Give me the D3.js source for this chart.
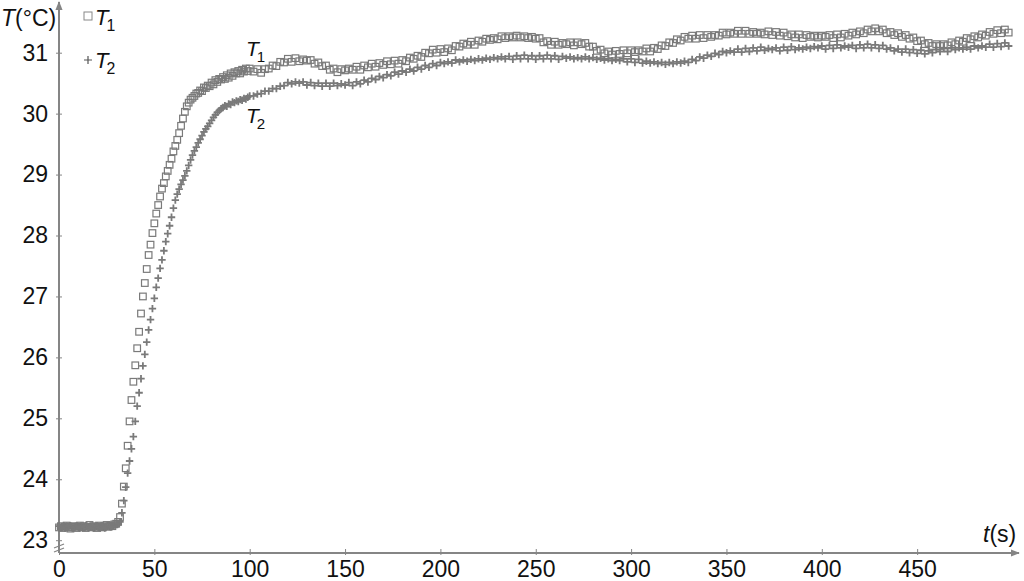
<!DOCTYPE html>
<html><head><meta charset="utf-8">
<script src="https://cdn.jsdelivr.net/npm/d3@7"></script>
<style>
body{margin:0;background:#fff}
svg{display:block}
text{font-family:"Liberation Sans",Arial,sans-serif;fill:#111}
</style>
</head><body>
<svg id="chart" width="1024" height="581"></svg>
<script>
// ---- data ----
// T1 (°C), one sample per second for t = 0..99 s
const T1_start = [
23.21,23.23,23.20,23.22,23.24,23.21,23.19,23.22,23.23,23.20,23.22,23.24,23.21,23.23,23.20,23.22,
23.25,23.21,23.23,23.22,23.20,23.24,23.22,23.21,23.23,23.25,23.22,23.24,23.23,23.26,23.27,23.30,
23.38,23.60,23.88,24.18,24.55,24.95,25.30,25.60,25.87,26.15,26.42,26.72,27.00,27.22,27.45,27.68,
27.85,28.04,28.20,28.36,28.50,28.64,28.77,28.86,28.97,29.06,29.16,29.26,29.38,29.47,29.57,29.68,
29.80,29.92,30.03,30.12,30.18,30.23,30.26,30.29,30.33,30.34,30.38,30.37,30.43,30.42,30.46,30.45,
30.51,30.48,30.55,30.52,30.57,30.56,30.60,30.57,30.63,30.59,30.66,30.62,30.68,30.66,30.70,30.66,
30.72,30.69,30.74,30.70];
// T1 (°C), one sample every 2 s for t = 100..498 s
const T1_end = [
30.74,30.69,30.73,30.67,30.73,30.74,30.79,30.78,30.85,30.84,
30.90,30.85,30.91,30.86,30.89,30.87,30.88,30.82,30.84,30.78,
30.79,30.72,30.74,30.68,30.73,30.71,30.74,30.72,30.77,30.72,
30.79,30.76,30.82,30.77,30.83,30.80,30.86,30.81,30.87,30.82,
30.88,30.86,30.92,30.90,30.95,30.93,31.00,30.99,31.05,31.00,
31.06,31.01,31.07,31.04,31.11,31.10,31.15,31.13,31.18,31.13,
31.20,31.18,31.23,31.21,31.24,31.22,31.27,31.24,31.27,31.25,
31.28,31.25,31.27,31.24,31.26,31.23,31.24,31.17,31.19,31.13,
31.18,31.13,31.16,31.14,31.17,31.12,31.17,31.14,31.16,31.10,
31.10,31.03,31.05,30.99,31.02,30.97,31.03,30.98,31.04,30.99,
31.04,31.01,31.04,31.02,31.07,31.02,31.08,31.06,31.12,31.11,
31.17,31.16,31.22,31.20,31.26,31.23,31.28,31.23,31.29,31.24,
31.29,31.26,31.29,31.28,31.33,31.30,31.33,31.31,31.36,31.31,
31.36,31.31,31.34,31.31,31.33,31.30,31.35,31.29,31.34,31.28,
31.33,31.27,31.30,31.25,31.30,31.24,31.29,31.26,31.28,31.25,
31.28,31.26,31.29,31.24,31.30,31.25,31.31,31.28,31.33,31.30,
31.35,31.32,31.38,31.35,31.40,31.35,31.38,31.32,31.34,31.29,
31.32,31.26,31.29,31.23,31.25,31.19,31.20,31.14,31.16,31.11,
31.14,31.11,31.14,31.12,31.17,31.14,31.20,31.18,31.24,31.22,
31.27,31.25,31.30,31.28,31.34,31.31,31.37,31.32,31.38,31.33];
// T2 (°C), one sample per second for t = 0..99 s
const T2_start = [
23.23,23.21,23.22,23.20,23.23,23.22,23.24,23.20,23.21,23.23,23.22,23.20,23.23,23.21,23.24,23.22,
23.21,23.23,23.20,23.22,23.24,23.21,23.23,23.22,23.20,23.23,23.24,23.22,23.24,23.25,23.26,23.27,
23.30,23.45,23.65,23.87,24.10,24.30,24.50,24.70,24.95,25.20,25.42,25.65,25.86,26.05,26.25,26.45,
26.62,26.80,26.97,27.15,27.30,27.46,27.60,27.75,27.90,28.03,28.16,28.30,28.45,28.58,28.68,28.76,
28.84,28.91,28.98,29.06,29.15,29.24,29.32,29.39,29.45,29.52,29.58,29.64,29.70,29.75,29.79,29.84,
29.89,29.94,29.98,30.02,30.05,30.08,30.10,30.13,30.12,30.16,30.15,30.19,30.18,30.21,30.20,30.23,
30.22,30.25,30.24,30.27];
// T2 (°C), one sample every 2 s for t = 100..498 s
const T2_end = [
30.29,30.29,30.32,30.33,30.37,30.37,30.41,30.41,30.45,30.46,
30.51,30.49,30.52,30.50,30.52,30.47,30.51,30.46,30.50,30.45,
30.50,30.45,30.50,30.46,30.49,30.47,30.51,30.46,30.52,30.49,
30.55,30.52,30.58,30.56,30.61,30.59,30.64,30.62,30.68,30.65,
30.70,30.68,30.73,30.70,30.76,30.73,30.79,30.76,30.82,30.79,
30.84,30.82,30.85,30.83,30.88,30.85,30.88,30.86,30.89,30.87,
30.90,30.88,30.91,30.89,30.92,30.90,30.93,30.90,30.94,30.89,
30.95,30.90,30.96,30.90,30.95,30.89,30.95,30.90,30.96,30.90,
30.95,30.89,30.94,30.91,30.93,30.90,30.92,30.90,30.93,30.90,
30.92,30.89,30.91,30.88,30.90,30.87,30.89,30.87,30.90,30.85,
30.90,30.84,30.89,30.83,30.86,30.83,30.85,30.82,30.84,30.81,
30.84,30.82,30.85,30.83,30.86,30.84,30.89,30.87,30.93,30.91,
30.96,30.94,30.99,30.97,31.02,31.00,31.03,31.01,31.06,31.01,
31.07,31.02,31.08,31.03,31.09,31.04,31.07,31.05,31.08,31.03,
31.09,31.04,31.10,31.05,31.08,31.06,31.09,31.07,31.10,31.08,
31.11,31.06,31.12,31.07,31.13,31.08,31.11,31.09,31.12,31.07,
31.13,31.08,31.14,31.08,31.13,31.07,31.12,31.06,31.08,31.03,
31.06,31.01,31.06,31.00,31.05,30.99,31.04,30.98,31.03,31.00,
31.05,31.02,31.07,31.02,31.08,31.05,31.08,31.06,31.09,31.06,
31.11,31.08,31.11,31.09,31.14,31.09,31.15,31.10,31.16,31.11];

const xTicks = [0,50,100,150,200,250,300,350,400,450];
const yTicks = [23,24,25,26,27,28,29,30,31];
const seriesNames = ["1","2"];

// sample times: 1 s steps to 99 s, then 2 s steps
const timeStart = d3.range(0,100,1);
const timeEnd = d3.range(100,500,2);
const pts = (a,b) => timeStart.map((t,i)=>({t, v:a[i]})).concat(timeEnd.map((t,i)=>({t, v:b[i]}))).filter(d=>d.v!==undefined);
const s1 = pts(T1_start, T1_end);
const s2 = pts(T2_start, T2_end);

// ---- layout ----
const svg = d3.select("#chart");
const X0 = 59, AXY = 553;
const x = d3.scaleLinear().domain([0,500]).range([X0,1012.5]);
const y = d3.scaleLinear().domain([23,31]).range([540.2,52.7]);
const grey = "#7a7a7a", axisGrey = "#858585";

svg.append("defs").append("marker").attr("id","arr").attr("viewBox","0 0 10 10")
  .attr("refX",9).attr("refY",5).attr("markerWidth",9).attr("markerHeight",9)
  .attr("markerUnits","userSpaceOnUse").attr("orient","auto")
  .append("path").attr("d","M0,1L10,5L0,9Z").attr("fill",axisGrey);

const axisG = svg.append("g");
axisG.append("line").attr("x1",X0).attr("y1",AXY).attr("x2",X0).attr("y2",2)
  .attr("stroke",axisGrey).attr("stroke-width",2).attr("marker-end","url(#arr)");
axisG.append("line").attr("x1",X0).attr("y1",AXY).attr("x2",1019).attr("y2",AXY)
  .attr("stroke",axisGrey).attr("stroke-width",2).attr("marker-end","url(#arr)");
[0,4].forEach(o=>axisG.append("line").attr("x1",54).attr("y1",548+o).attr("x2",64).attr("y2",544+o)
  .attr("stroke",axisGrey).attr("stroke-width",1.3));

const yAxis = svg.append("g").attr("transform",`translate(${X0},0)`)
  .call(d3.axisLeft(y).tickValues(yTicks).tickSize(3).tickPadding(8).tickFormat(d3.format("d")));
yAxis.select(".domain").remove();
yAxis.selectAll(".tick line").attr("x1",3).attr("stroke",axisGrey).attr("stroke-width",1);
yAxis.selectAll(".tick text").attr("font-size",23).attr("font-family","Liberation Sans, Arial, sans-serif").attr("fill","#111");

const xAxis = svg.append("g").attr("transform",`translate(0,${AXY})`)
  .call(d3.axisBottom(x).tickValues(xTicks).tickSize(3).tickPadding(5).tickFormat(d3.format("d")));
xAxis.select(".domain").remove();
xAxis.selectAll(".tick line").attr("y1",-4).attr("y2",2).attr("stroke",axisGrey).attr("stroke-width",1);
xAxis.selectAll(".tick text").attr("font-size",23).attr("font-family","Liberation Sans, Arial, sans-serif").attr("fill","#111");

const yt = svg.append("text").attr("x",1).attr("y",26).attr("font-size",23);
yt.append("tspan").attr("font-style","italic").text("T");
yt.append("tspan").text("(°C)");
const xt = svg.append("text").attr("x",983).attr("y",542).attr("font-size",23);
xt.append("tspan").attr("font-style","italic").text("t");
xt.append("tspan").text("(s)");

// ---- data marks ----
const sq = 6.6;
svg.append("g").selectAll("rect").data(s1).join("rect")
  .attr("x",d=>x(d.t)-sq/2).attr("y",d=>y(d.v)-sq/2).attr("width",sq).attr("height",sq)
  .attr("fill","none").attr("stroke",grey).attr("stroke-width",1.2);
const ph = 3.7;
svg.append("g").selectAll("path").data(s2).join("path")
  .attr("transform",d=>`translate(${x(d.t)},${y(d.v)})`)
  .attr("d",`M${-ph},0H${ph}M0,${-ph}V${ph}`)
  .attr("stroke",grey).attr("stroke-width",1.8).attr("fill","none");

// ---- legend & labels ----
function tLabel(g, xx, yy, sub, fs){
  const t = g.append("text").attr("x",xx).attr("y",yy).attr("font-size",fs);
  t.append("tspan").attr("font-style","italic").text("T");
  t.append("tspan").attr("font-size",fs*0.72).attr("dy",fs*0.28).attr("dx",-2).text(sub);
}
const lg = svg.append("g");
lg.append("rect").attr("x",84).attr("y",12).attr("width",8).attr("height",8)
  .attr("fill","none").attr("stroke","#888").attr("stroke-width",1);
tLabel(lg, 95, 25, seriesNames[0], 22);
lg.append("path").attr("d","M84,60H92M88,56V64").attr("stroke","#555").attr("stroke-width",1.2);
tLabel(lg, 95, 68, seriesNames[1], 22);

tLabel(svg, 246, 56, seriesNames[0], 21);
tLabel(svg, 246, 123, seriesNames[1], 21);
</script>
</body></html>
